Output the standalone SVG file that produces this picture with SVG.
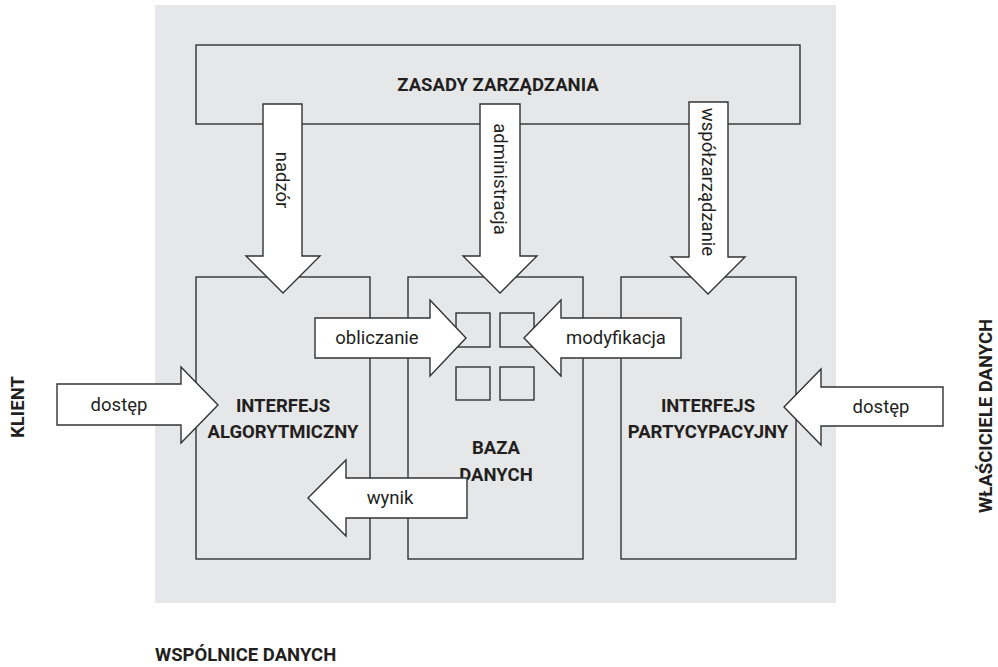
<svg xmlns="http://www.w3.org/2000/svg" width="998" height="667" viewBox="0 0 998 667">
<style>
.box{fill:none;stroke:#333;stroke-width:1.4}
.sq{fill:none;stroke:#333;stroke-width:1.4}
.arr{fill:#fff;stroke:#333;stroke-width:1.4;stroke-linejoin:miter}
.t{font-family:Roboto,"Liberation Sans",sans-serif;font-size:18.5px;fill:#231f20}
.b{font-family:Roboto,"Liberation Sans",sans-serif;font-size:18.5px;font-weight:bold;fill:#231f20}
</style>
<rect x="155" y="5" width="681" height="598" fill="#e6e7e8"/>
<g id="zasady">
<rect class="box" x="196" y="45" width="604" height="79"/>
<text class="b" x="498" y="91" text-anchor="middle">ZASADY ZARZĄDZANIA</text>
</g>
<g id="interfejs-algorytmiczny">
<rect class="box" x="196" y="277" width="174" height="282"/>
<text class="b" x="283" y="412" text-anchor="middle">INTERFEJS</text>
<text class="b" x="283" y="438" text-anchor="middle">ALGORYTMICZNY</text>
</g>
<g id="baza-danych">
<rect class="box" x="408" y="277" width="175" height="282"/>
<rect class="sq" x="456" y="313" width="34" height="34"/>
<rect class="sq" x="500" y="313" width="34" height="34"/>
<rect class="sq" x="456" y="367" width="34" height="33"/>
<rect class="sq" x="500" y="367" width="34" height="33"/>
<text class="b" x="496" y="454" text-anchor="middle">BAZA</text>
<text class="b" x="496" y="481" text-anchor="middle">DANYCH</text>
</g>
<g id="interfejs-partycypacyjny">
<rect class="box" x="621" y="277" width="175" height="282"/>
<text class="b" x="708" y="412" text-anchor="middle">INTERFEJS</text>
<text class="b" x="708" y="438" text-anchor="middle">PARTYCYPACYJNY</text>
</g>
<g id="klient">
<text class="b" transform="translate(24,407) rotate(-90)" text-anchor="middle">KLIENT</text>
</g>
<g id="wlasciciele">
<text class="b" transform="translate(992,416) rotate(-90)" text-anchor="middle">WŁAŚCICIELE DANYCH</text>
</g>
<g id="wspolnice">
<text class="b" x="155" y="661">WSPÓLNICE DANYCH</text>
</g>
<g id="connectors">
<path class="arr" d="M263,104 H302 V256 H320 L283,293 L246,256 H263 Z"/>
<text class="t" transform="translate(282,180) rotate(90)" text-anchor="middle" dy="0.35em">nadzór</text>
<path class="arr" d="M480,104 H520 V256 H537 L500,293 L463,256 H480 Z"/>
<text class="t" transform="translate(500,179) rotate(90)" text-anchor="middle" dy="0.35em">administracja</text>
<path class="arr" d="M689,102 H728 V257 H745 L708,294 L671,257 H689 Z"/>
<text class="t" transform="translate(708,182) rotate(90)" text-anchor="middle" dy="0.35em">współzarządzanie</text>
<path class="arr" d="M315,318 H430 V300 L466,338 L430,376 V358 H315 Z"/>
<text class="t" x="377" y="344" text-anchor="middle">obliczanie</text>
<path class="arr" d="M681,318 H561 V300 L524,338 L561,376 V358 H681 Z"/>
<text class="t" x="616" y="344" text-anchor="middle">modyfikacja</text>
<path class="arr" d="M467,478 H346 V460 L308,498 L346,536 V518 H467 Z"/>
<text class="t" x="390" y="504" text-anchor="middle">wynik</text>
<path class="arr" d="M57,384 H181 V367 L218,405 L181,443 V425 H57 Z"/>
<text class="t" x="119" y="411" text-anchor="middle">dostęp</text>
<path class="arr" d="M943,387 H821 V369 L784,407 L821,445 V426 H943 Z"/>
<text class="t" x="881" y="413" text-anchor="middle">dostęp</text>
</g>
</svg>
